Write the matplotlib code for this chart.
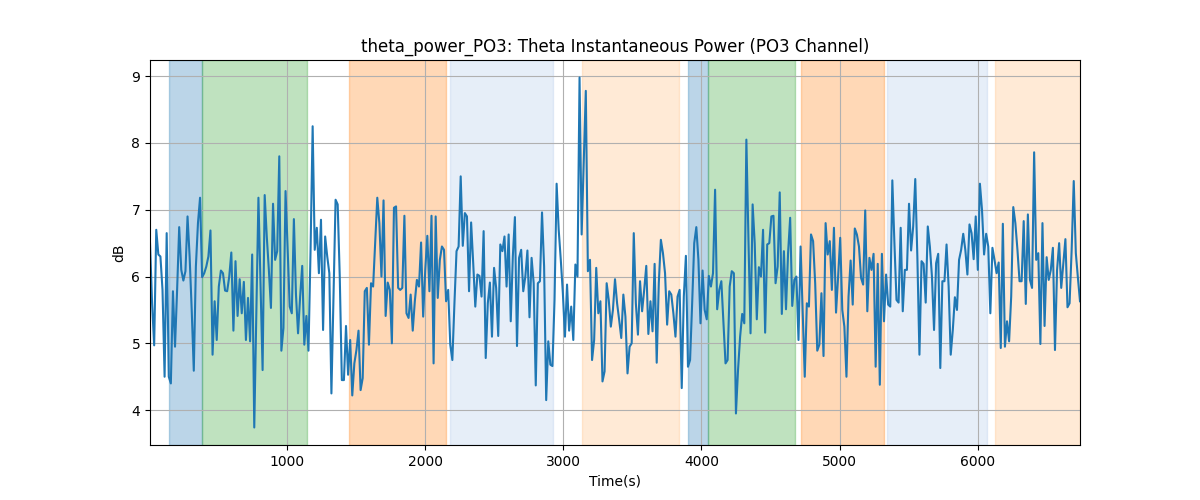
import numpy as np
import matplotlib
matplotlib.use("Agg")
import matplotlib.pyplot as plt

# Theta power values (dB), read left to right
seg1 = [6.5, 5.6, 4.97, 6.7, 6.33, 6.3, 5.8, 4.5, 6.65, 4.5, 4.4, 5.78, 4.95, 5.8, 6.74, 6.1, 5.94, 6.08, 6.9, 6.3,
        5.5, 4.59, 6.15, 6.8, 7.18, 5.99, 6.05, 6.15, 6.3, 6.69, 4.83, 5.63, 5.05, 5.85, 6.09, 6.05, 5.79, 5.78, 6.0, 6.36,
        5.19, 6.23, 5.41, 5.96, 5.45, 5.92, 5.05, 5.68, 5.03, 6.33, 3.74, 5.5, 7.18, 5.9, 4.6, 7.22]
seg2 = [6.6, 6.1, 5.53, 7.09, 6.25, 6.38, 7.8, 4.89, 5.23, 7.28, 6.4, 5.55, 5.45, 6.86, 5.73, 5.15, 5.7, 6.16, 4.98, 5.41,
        4.89, 6.4, 8.25, 6.4, 6.73, 6.05, 6.85, 5.2, 6.6, 6.3, 6.05, 4.25, 5.7, 7.15, 7.08, 6.0, 4.45, 4.45, 5.26, 4.53,
        5.05, 4.22, 4.7, 4.9, 5.19, 4.3, 4.48, 5.78, 5.83, 4.98, 5.9, 5.85, 6.5, 7.18, 6.8]
seg3 = [6.0, 7.14, 5.41, 5.91, 5.8, 5.0, 7.03, 7.05, 5.83, 5.8, 5.83, 6.91, 5.45, 5.38, 5.73, 5.19, 5.63, 5.95, 5.85, 6.51,
        5.4, 6.1, 6.61, 5.78, 6.91, 4.7, 6.9, 5.68, 6.25, 6.45, 6.4, 5.63, 5.8, 4.98, 4.75, 5.6, 6.38, 6.45, 7.5, 6.46,
        6.95, 6.9, 5.78, 6.81, 6.2, 5.55, 6.03, 6.01, 5.7, 6.68, 4.78, 5.6, 5.91, 5.1, 6.13, 5.83]
seg4 = [5.11, 6.48, 6.38, 6.6, 5.85, 6.63, 5.33, 6.3, 6.89, 4.96, 6.28, 6.4, 5.78, 6.0, 6.39, 5.39, 6.28, 5.9, 4.37, 5.9,
        5.93, 6.96, 6.15, 4.15, 5.03, 4.68, 4.66, 5.65, 7.39, 6.7, 6.25, 5.75, 5.1, 5.88, 5.19, 5.55, 5.05, 6.18, 6.0, 8.98,
        6.63, 7.7, 8.78, 6.08, 6.25, 4.75, 5.05, 6.13, 5.45, 5.63, 4.43, 4.58, 5.9, 5.65, 5.25, 5.5]
seg5 = [5.96, 5.6, 5.35, 5.08, 5.73, 5.4, 4.55, 4.95, 5.0, 6.65, 5.6, 5.13, 5.93, 5.48, 5.8, 6.16, 5.14, 5.63, 5.18, 6.19,
        4.71, 5.9, 6.55, 6.35, 6.05, 5.28, 5.78, 5.73, 5.45, 5.1, 5.7, 5.8, 4.33, 5.7, 6.31, 4.65, 4.75, 5.6, 6.5, 6.74,
        6.25, 5.3, 6.09, 5.5, 5.36, 6.01, 5.85, 6.05, 7.3, 5.51, 5.8, 5.93, 5.3, 4.7, 4.75]
seg6 = [5.85, 6.08, 6.05, 3.95, 4.6, 5.1, 5.44, 5.3, 8.05, 6.55, 5.15, 7.08, 6.5, 5.36, 6.14, 6.0, 6.7, 5.16, 6.48, 6.5,
        6.9, 6.91, 5.9, 6.15, 7.26, 5.44, 6.38, 5.51, 6.35, 6.88, 5.56, 5.95, 6.0, 5.05, 6.45, 5.5, 4.5, 5.6, 5.55, 6.63,
        6.53, 5.9, 4.89, 4.98, 5.75, 4.81, 6.8, 6.33, 6.53, 5.8, 6.73, 5.46, 6.0, 6.58, 5.5, 5.25]
seg7 = [4.5, 5.7, 6.24, 5.58, 6.72, 6.63, 6.45, 5.98, 5.88, 6.99, 5.48, 6.28, 6.1, 6.34, 4.65, 6.19, 4.38, 6.34, 5.33, 6.03,
        5.58, 5.55, 7.44, 6.5, 5.65, 5.61, 6.73, 5.48, 6.1, 6.1, 7.09, 6.39, 6.75, 7.46, 6.3, 4.83, 6.23, 6.19, 5.61, 6.75,
        6.45, 6.0, 5.2, 6.2, 6.34, 4.63, 5.93, 5.93, 6.48, 5.85, 4.83, 5.2, 5.69, 5.5, 6.25, 6.4]
seg8 = [6.64, 6.4, 6.03, 6.78, 6.65, 6.26, 6.9, 6.1, 7.39, 7.0, 6.33, 6.64, 6.45, 5.45, 6.43, 6.25, 6.05, 6.21, 4.93, 6.79,
        4.95, 5.33, 5.03, 5.7, 7.04, 6.8, 6.4, 5.93, 5.93, 6.83, 5.59, 6.93, 5.95, 5.83, 7.86, 6.25, 6.35, 4.99, 6.8, 5.26,
        6.29, 5.95, 6.1, 6.43, 4.9, 6.1, 6.5, 5.83, 6.2, 6.56, 5.54, 5.6, 6.4, 7.43, 6.35, 5.98, 5.63]

t_start = 8.0
t_end = 6740.0

# shaded epochs: (start, end, colour)
span_starts = [145, 382, 1449, 2181, 3138, 3899, 4046, 4717, 5341, 6123]
span_ends = [382, 1143, 2152, 2925, 3838, 4046, 4679, 5319, 6070, 6740]
span_colors = ["tab:blue", "tab:green", "tab:orange", "#aec7e8", "#ffbb78",
               "tab:blue", "tab:green", "tab:orange", "#aec7e8", "#ffbb78"]

power = np.array(seg1 + seg2 + seg3 + seg4 + seg5 + seg6 + seg7 + seg8)
time = np.linspace(t_start, t_end, len(power))

fig, ax = plt.subplots(figsize=(12, 5), dpi=100)
for s, e, c in zip(span_starts, span_ends, span_colors):
    ax.axvspan(s, e, color=c, alpha=0.3)
ax.plot(time, power, color="tab:blue", linewidth=1.5)
ax.set_xlim(t_start, t_end)
ax.grid(True)
ax.set_title("theta_power_PO3: Theta Instantaneous Power (PO3 Channel)")
ax.set_xlabel("Time(s)")
ax.set_ylabel("dB")
fig.savefig("out.png")
